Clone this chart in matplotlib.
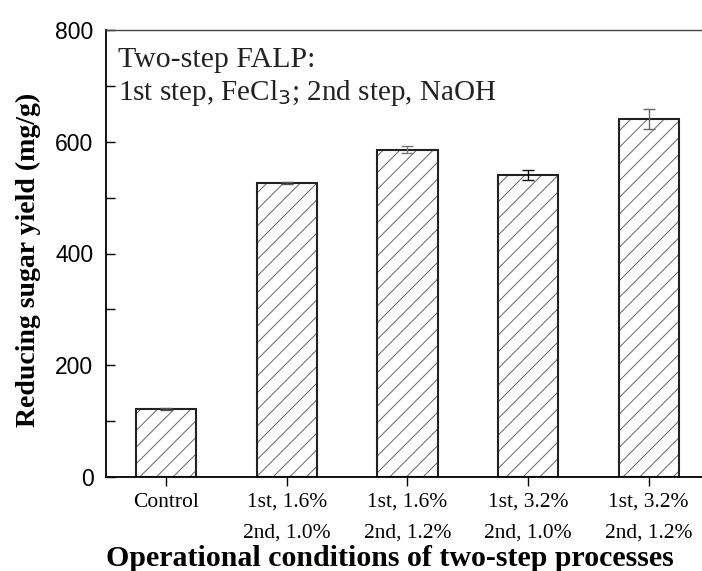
import matplotlib
matplotlib.use("Agg")
import matplotlib.pyplot as plt
from matplotlib.ticker import MultipleLocator

categories = ["Control", "1st, 1.6%\n2nd, 1.0%", "1st, 1.6%\n2nd, 1.2%",
              "1st, 3.2%\n2nd, 1.0%", "1st, 3.2%\n2nd, 1.2%"]
values = [122, 526, 586, 541, 640]
errors = [1.5, 2, 6, 9, 18]
err_colors = ["#555555", "#555555", "#777777", "#111111", "#666666"]

plt.rcParams['hatch.linewidth'] = 0.7
plt.rcParams['hatch.color'] = '#666666'

W, H = 702, 571
fig = plt.figure(figsize=(W / 100, H / 100), dpi=100)
ax = fig.add_axes([106 / W, 1 - 477 / H, (709 - 106) / W, (477 - 30) / H])

x = list(range(len(categories)))
ax.bar(x, values, width=0.5, color='white', edgecolor='#666666', hatch='//', linewidth=0)
ax.bar(x, values, width=0.5, fill=False, edgecolor='#222222', linewidth=1.5)
for xi, v, e, c in zip(x, values, errors, err_colors):
    ax.errorbar(xi, v, yerr=e, fmt='none', ecolor=c, elinewidth=1.0, capsize=4, capthick=1.0)

ax.set_xlim(-0.5, 4.5)
ax.set_ylim(0, 800)
ax.yaxis.set_major_locator(MultipleLocator(200))
ax.yaxis.set_minor_locator(MultipleLocator(100))
ax.tick_params(axis='y', which='both', direction='in', length=6.5, width=1.0, pad=9,
               labelsize=16.5)
for lab in ax.get_yticklabels():
    lab.set_fontfamily('Liberation Sans')
ax.set_xticks(x)
ax.set_xticklabels(categories, fontfamily='Liberation Serif', fontsize=15.5, linespacing=1.8)
ax.tick_params(axis='x', direction='out', length=6.5, width=1.0, pad=5)

for s in ['left', 'bottom']:
    ax.spines[s].set_linewidth(1.3)
ax.spines['top'].set_linewidth(1.0)
ax.spines['top'].set_color('#444444')
ax.spines['right'].set_visible(False)

fig.text(28 / W, 1 - 260 / H, "Reducing sugar yield (mg/g)", rotation=90,
         fontfamily='Liberation Serif', fontweight='bold', fontsize=20,
         ha='center', va='center')
fig.text(390 / W, 5 / H, "Operational conditions of two-step processes",
         fontfamily='Liberation Serif', fontweight='bold', fontsize=21.5,
         ha='center', va='baseline')

fig.text(118 / W, 1 - 67 / H, "Two-step FALP:", fontfamily='Liberation Serif',
         fontsize=21.5, va='baseline', ha='left', color='#222222')
fig.text(118 / W, 1 - 100 / H, "1st step, FeCl$_3$; 2nd step, NaOH",
         fontfamily='Liberation Serif', fontsize=21, va='baseline', ha='left', color='#222222')

fig.savefig("out.png", dpi=100)
